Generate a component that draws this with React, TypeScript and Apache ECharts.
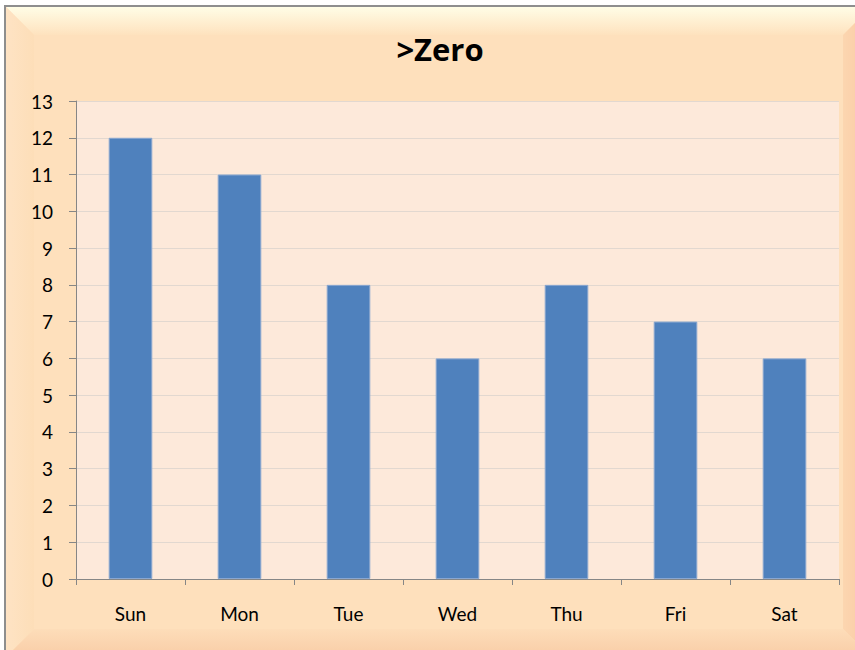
import React, { useEffect, useRef } from "react";
import * as echarts from "echarts";

const categories = ["Sun", "Mon", "Tue", "Wed", "Thu", "Fri", "Sat"];
const values = [12, 11, 8, 6, 8, 7, 6];
const titleText = ">Zero";
const yMax = 13;

export default function App() {
  const ref = useRef<HTMLDivElement>(null);
  useEffect(() => {
    if (!ref.current) return;
    const chart = echarts.init(ref.current, null, { renderer: "svg" });
    const font = "Lato, 'Open Sans', sans-serif";
    chart.setOption({
      animation: false,
      backgroundColor: "#ffffff",
      title: {
        text: titleText,
        left: 435,
        textAlign: "center",
        top: 28,
        textStyle: { fontFamily: "'Open Sans', Lato, sans-serif", fontWeight: "bold", fontSize: 31, color: "#000" },
      },
      graphic: [
        {
          type: "rect",
          z: -100,
          shape: { x: 5, y: 6, width: 870, height: 655 },
          style: { fill: "#FEE0BC", stroke: "#8E8E8E", lineWidth: 2 },
        },
        {
          type: "polygon",
          z: -99,
          shape: { points: [[6, 7], [871, 7], [843, 35], [34, 35]] },
          style: {
            fill: new echarts.graphic.LinearGradient(0, 0, 0, 1, [
              { offset: 0, color: "#FFFDE6" },
              { offset: 1, color: "#FEE2BE" },
            ]),
          },
        },
        {
          type: "polygon",
          z: -99,
          shape: { points: [[6, 7], [34, 35], [34, 629], [6, 657]] },
          style: {
            fill: new echarts.graphic.LinearGradient(0, 0, 1, 0, [
              { offset: 0, color: "#FEE3C4" },
              { offset: 1, color: "#FDDEB8" },
            ]),
          },
        },
        {
          type: "polygon",
          z: -99,
          shape: { points: [[871, 7], [843, 35], [843, 629], [871, 657]] },
          style: {
            fill: new echarts.graphic.LinearGradient(0, 0, 1, 0, [
              { offset: 0, color: "#FCD6B0" },
              { offset: 1, color: "#F9C8A2" },
            ]),
          },
        },
        {
          type: "polygon",
          z: -99,
          shape: { points: [[34, 629], [843, 629], [871, 657], [6, 657]] },
          style: {
            fill: new echarts.graphic.LinearGradient(0, 0, 0, 1, [
              { offset: 0, color: "#FDDDB9" },
              { offset: 1, color: "#F9CCA6" },
            ]),
          },
        },
      ],
      grid: {
        left: 76,
        top: 101,
        right: 16,
        bottom: 71,
        show: true,
        backgroundColor: "#FDE9DA",
        borderWidth: 0,
      },
      xAxis: {
        type: "category",
        data: categories,
        axisLine: { lineStyle: { color: "#868686", width: 1 } },
        axisTick: { show: true, length: 6, lineStyle: { color: "#868686" } },
        axisLabel: { color: "#000", fontSize: 19, fontFamily: font, margin: 25 },
      },
      yAxis: {
        type: "value",
        min: 0,
        max: yMax,
        interval: 1,
        axisLine: { show: true, lineStyle: { color: "#868686", width: 1 } },
        axisTick: { show: true, length: 7, lineStyle: { color: "#868686" } },
        axisLabel: { color: "#000", fontSize: 19, fontFamily: font, margin: 23 },
        splitLine: { show: true, lineStyle: { color: "#E2D8D0", width: 1 } },
      },
      series: [
        {
          type: "bar",
          data: values,
          barWidth: "40%",
          itemStyle: { color: "#4F81BD", borderColor: "#8AA7D0", borderWidth: 1 },
        },
      ],
    });
    return () => chart.dispose();
  }, []);
  return (
    <div
      ref={ref}
      style={{ position: "absolute", left: 0, top: 0, width: 855, height: 650 }}
    />
  );
}
